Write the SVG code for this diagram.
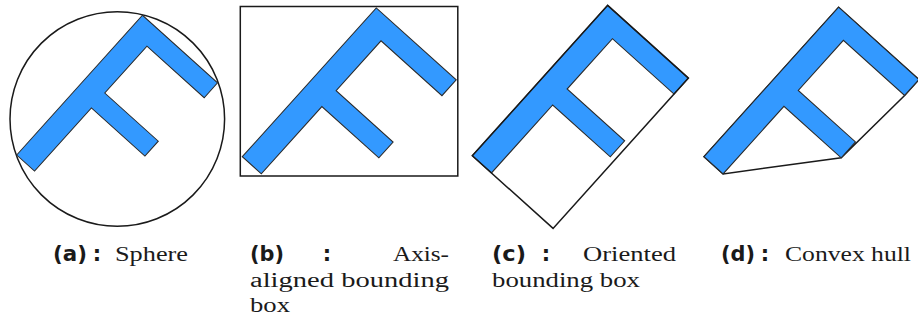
<svg xmlns="http://www.w3.org/2000/svg" width="918" height="324" viewBox="0 0 918 324">
<style>
.f{fill:#3399ff;stroke:#2a2a2a;stroke-width:1;stroke-linejoin:miter;vector-effect:non-scaling-stroke}
.bv{fill:none;stroke:#1a1a1a;stroke-width:1.5;vector-effect:non-scaling-stroke}
.lb{font-family:'DejaVu Sans',sans-serif;font-weight:bold;font-size:21px;fill:#1a1a1a}
.tx{font-family:'Liberation Serif',serif;font-size:20px;fill:#1a1a1a}
</style>
<defs>
<polygon id="F" points="0,0 188,0 188,101 168,101 168,24 105,24 105,96 85,96 85,24 0,24"/>
</defs>
<rect width="918" height="324" fill="#ffffff"/>
<g id="panel-a">
<circle class="bv" cx="117.3" cy="119" r="107.3"/>
<use href="#F" class="f" transform="translate(16.7,155) rotate(-48)"/>
</g>
<g id="panel-b">
<rect class="bv" x="240.3" y="6.5" width="217.5" height="169.5"/>
<use href="#F" class="f" transform="translate(242.3,156.7) rotate(-48) scale(1.065)"/>
</g>
<g id="panel-c">
<use href="#F" class="f" transform="translate(472.3,155.7) rotate(-48) scale(1.076)"/>
<rect class="bv" x="0" y="0" width="188" height="101" transform="translate(472.3,155.7) rotate(-48) scale(1.076)"/>
</g>
<g id="panel-d">
<polygon class="bv" points="0,0 188,0 188,101 168,101 85,96 0,24" transform="translate(704,156.7) rotate(-48) scale(1.07)"/>
<use href="#F" class="f" transform="translate(704,156.7) rotate(-48) scale(1.07)"/>
</g>
<g id="caption-a">
<text class="lb" x="53" y="261" textLength="34" lengthAdjust="spacingAndGlyphs">(a)</text>
<text class="lb" x="97" y="261" text-anchor="middle">:</text>
<text class="tx" x="115" y="261" textLength="73" lengthAdjust="spacingAndGlyphs">Sphere</text>
</g>
<g id="caption-b">
<text class="lb" x="250" y="261" textLength="34" lengthAdjust="spacingAndGlyphs">(b)</text>
<text class="lb" x="327" y="261" text-anchor="middle">:</text>
<text class="tx" x="393" y="261" textLength="56" lengthAdjust="spacingAndGlyphs">Axis-</text>
<text class="tx" x="250" y="286.5" textLength="199" lengthAdjust="spacingAndGlyphs">aligned bounding</text>
<text class="tx" x="250" y="312" textLength="40" lengthAdjust="spacingAndGlyphs">box</text>
</g>
<g id="caption-c">
<text class="lb" x="492" y="261" textLength="34" lengthAdjust="spacingAndGlyphs">(c)</text>
<text class="lb" x="546" y="261" text-anchor="middle">:</text>
<text class="tx" x="583" y="261" textLength="93" lengthAdjust="spacingAndGlyphs">Oriented</text>
<text class="tx" x="492" y="286.5" textLength="148" lengthAdjust="spacingAndGlyphs">bounding box</text>
</g>
<g id="caption-d">
<text class="lb" x="721" y="261" textLength="34" lengthAdjust="spacingAndGlyphs">(d)</text>
<text class="lb" x="765" y="261" text-anchor="middle">:</text>
<text class="tx" x="785" y="261" textLength="126" lengthAdjust="spacingAndGlyphs">Convex hull</text>
</g>
</svg>
